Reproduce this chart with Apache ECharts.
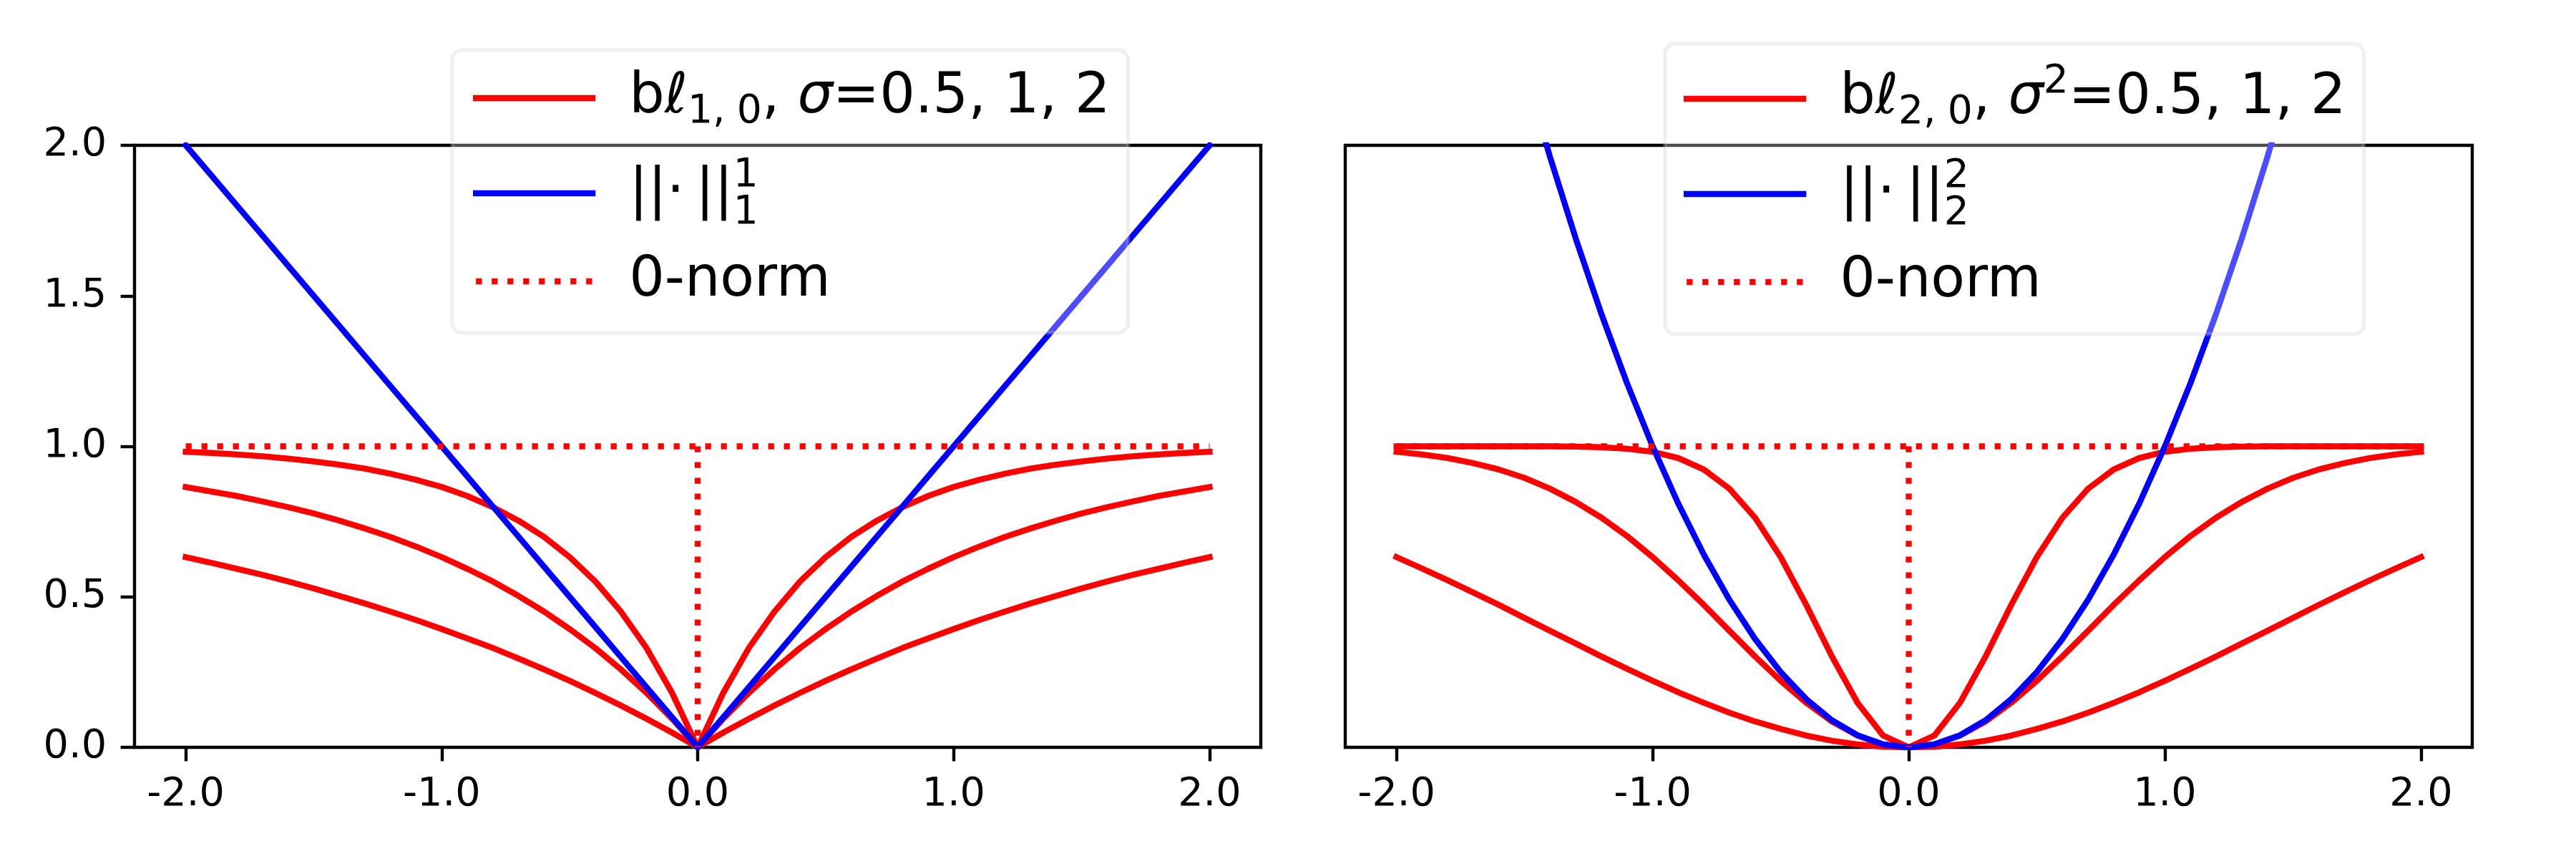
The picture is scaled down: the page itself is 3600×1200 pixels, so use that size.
<!DOCTYPE html>
<html>
<head>
<meta charset="utf-8">
<script src="https://cdn.jsdelivr.net/npm/echarts@6/dist/echarts.min.js"></script>
<style>
html, body { margin: 0; padding: 0; background: #fff; }
#main { width: 3600px; height: 1200px; }
</style>
</head>
<body>
<div id="main"></div>
<script>
// x samples, -2.0 .. 2.0 step 0.1
const xs = [-2.0, -1.9, -1.8, -1.7, -1.6, -1.5, -1.4, -1.3, -1.2, -1.1, -1.0, -0.9, -0.8, -0.7, -0.6, -0.5, -0.4, -0.3, -0.2, -0.1,
    0.0, 0.1, 0.2, 0.3, 0.4, 0.5, 0.6, 0.7, 0.8, 0.9, 1.0, 1.1, 1.2, 1.3, 1.4, 1.5, 1.6, 1.7, 1.8, 1.9, 2.0];

// left panel: bl_{1,0} for sigma = 0.5, 1, 2 and the l1 norm
const l10Sigma05 = [0.982, 0.978, 0.973, 0.967, 0.959, 0.950, 0.939, 0.926, 0.909, 0.889, 0.865, 0.835, 0.798, 0.753, 0.699, 0.632, 0.551, 0.451, 0.330, 0.181,
    0, 0.181, 0.330, 0.451, 0.551, 0.632, 0.699, 0.753, 0.798, 0.835, 0.865, 0.889, 0.909, 0.926, 0.939, 0.950, 0.959, 0.967, 0.973, 0.978, 0.982];
const l10Sigma1 = [0.865, 0.850, 0.835, 0.817, 0.798, 0.777, 0.753, 0.727, 0.699, 0.667, 0.632, 0.593, 0.551, 0.503, 0.451, 0.393, 0.330, 0.259, 0.181, 0.095,
    0, 0.095, 0.181, 0.259, 0.330, 0.393, 0.451, 0.503, 0.551, 0.593, 0.632, 0.667, 0.699, 0.727, 0.753, 0.777, 0.798, 0.817, 0.835, 0.850, 0.865];
const l10Sigma2 = [0.632, 0.613, 0.593, 0.573, 0.551, 0.528, 0.503, 0.478, 0.451, 0.423, 0.393, 0.362, 0.330, 0.295, 0.259, 0.221, 0.181, 0.139, 0.095, 0.049,
    0, 0.049, 0.095, 0.139, 0.181, 0.221, 0.259, 0.295, 0.330, 0.362, 0.393, 0.423, 0.451, 0.478, 0.503, 0.528, 0.551, 0.573, 0.593, 0.613, 0.632];
const l1Norm = [2.0, 1.9, 1.8, 1.7, 1.6, 1.5, 1.4, 1.3, 1.2, 1.1, 1.0, 0.9, 0.8, 0.7, 0.6, 0.5, 0.4, 0.3, 0.2, 0.1,
    0, 0.1, 0.2, 0.3, 0.4, 0.5, 0.6, 0.7, 0.8, 0.9, 1.0, 1.1, 1.2, 1.3, 1.4, 1.5, 1.6, 1.7, 1.8, 1.9, 2.0];

// right panel: bl_{2,0} for sigma^2 = 0.5, 1, 2 and the squared l2 norm
const l20Sigma05 = [1.000, 1.000, 1.000, 1.000, 1.000, 1.000, 1.000, 0.999, 0.997, 0.992, 0.982, 0.961, 0.923, 0.859, 0.763, 0.632, 0.473, 0.302, 0.148, 0.039,
    0, 0.039, 0.148, 0.302, 0.473, 0.632, 0.763, 0.859, 0.923, 0.961, 0.982, 0.992, 0.997, 0.999, 1.000, 1.000, 1.000, 1.000, 1.000, 1.000, 1.000];
const l20Sigma1 = [0.982, 0.973, 0.961, 0.944, 0.923, 0.895, 0.859, 0.815, 0.763, 0.702, 0.632, 0.555, 0.473, 0.387, 0.302, 0.221, 0.148, 0.086, 0.039, 0.010,
    0, 0.010, 0.039, 0.086, 0.148, 0.221, 0.302, 0.387, 0.473, 0.555, 0.632, 0.702, 0.763, 0.815, 0.859, 0.895, 0.923, 0.944, 0.961, 0.973, 0.982];
const l20Sigma2 = [0.632, 0.594, 0.555, 0.514, 0.473, 0.430, 0.387, 0.345, 0.302, 0.261, 0.221, 0.183, 0.148, 0.115, 0.086, 0.061, 0.039, 0.022, 0.010, 0.002,
    0, 0.002, 0.010, 0.022, 0.039, 0.061, 0.086, 0.115, 0.148, 0.183, 0.221, 0.261, 0.302, 0.345, 0.387, 0.430, 0.473, 0.514, 0.555, 0.594, 0.632];
const l2Squared = [4.00, 3.61, 3.24, 2.89, 2.56, 2.25, 1.96, 1.69, 1.44, 1.21, 1.00, 0.81, 0.64, 0.49, 0.36, 0.25, 0.16, 0.09, 0.04, 0.01,
    0, 0.01, 0.04, 0.09, 0.16, 0.25, 0.36, 0.49, 0.64, 0.81, 1.00, 1.21, 1.44, 1.69, 1.96, 2.25, 2.56, 2.89, 3.24, 3.61, 4.00];

// 0-norm: flat at 1, drop to 0 at the origin
const zeroFlatX = [-2.0, 2.0];
const zeroFlatY = [1, 1];
const zeroDropX = [0.0, 0.0];
const zeroDropY = [1, 0];

// ticks
const xTicks = [-2, -1, 0, 1, 2];
const xTickLabels = ['-2.0', '-1.0', '0.0', '1.0', '2.0'];
const yTicks = [0, 0.5, 1, 1.5, 2];
const yTickLabels = ['0.0', '0.5', '1.0', '1.5', '2.0'];

const FONT = 'DejaVu Sans';
const LW = 8.3;
const DOTS = [8.3, 13.7];

const pairs = (xv, yv) => xv.map((x, i) => [x, yv[i]]);

const legendText = {
    bl1: '{lead| }{t|b}{it|ℓ}{sub|1,\u2009\u200A0}{t|, }{it|σ}{t|=0.5, 1, 2}{s1| }',
    n1: '{lead| }{t|||·\u2009||}{sup2|1}{sub2|1}{s2| }',
    z1: '{lead| }{t|0-norm}',
    bl2: '{lead| }{t|b}{it|ℓ}{sub|2,\u2009\u200A0}{t|, }{it|σ}{sup|2}{t|=0.5, 1, 2}{s1| }',
    n2: '{lead| }{t|||·\u2009||}{sup2|2}{sub2|2}{s2| }',
    z2: '{lead| }{t|0-norm}'
};

const rich = {
    lead: { width: 46, fontSize: 78, fontFamily: FONT },
    t: { fontSize: 78, fontFamily: FONT, color: '#000' },
    it: { fontSize: 78, fontFamily: FONT, fontStyle: 'italic', color: '#000' },
    sub: { fontSize: 55, fontFamily: FONT, color: '#000', padding: [40, 0, 0, 0] },
    sup: { fontSize: 55, fontFamily: FONT, color: '#000', padding: [0, 0, 47, 0] },
    sup2: { fontSize: 55, fontFamily: FONT, color: '#000', padding: [0, 0, 49, 0], width: 0 },
    sub2: { fontSize: 55, fontFamily: FONT, color: '#000', padding: [55, 0, 0, 0] },
    s1: { width: 0, lineHeight: 126, fontSize: 78, fontFamily: FONT },
    s2: { width: 0, lineHeight: 140, fontSize: 78, fontFamily: FONT }
};

function makeLegend(names, left, top, padding, textWidth) {
    return {
        orient: 'vertical',
        left: left,
        top: top,
        data: names,
        selectedMode: false,
        itemWidth: 163,
        itemHeight: 20,
        itemGap: 0,
        padding: padding,
        backgroundColor: 'rgba(255,255,255,0.3)',
        borderColor: 'rgba(204,204,204,0.3)',
        borderWidth: 5.5,
        borderRadius: 14,
        lineStyle: { width: LW },
        itemStyle: { opacity: 0 },
        formatter: name => legendText[name],
        textStyle: {
            fontFamily: FONT,
            fontSize: 78,
            lineHeight: 106,
            color: '#000',
            width: textWidth,
            rich: rich
        }
    };
}

function makeX(idx) {
    return {
        type: 'value',
        gridIndex: idx,
        min: -2.2,
        max: 2.2,
        axisLine: { show: false, onZero: false },
        splitLine: { show: false },
        axisTick: { show: true, customValues: xTicks, length: 19.4, lineStyle: { color: '#000', width: 4.4 } },
        axisLabel: {
            customValues: xTicks,
            margin: 39,
            fontFamily: FONT,
            fontSize: 55.6,
            color: '#000',
            formatter: v => xTickLabels[xTicks.indexOf(v)]
        }
    };
}

function makeY(idx, showLabels) {
    return {
        type: 'value',
        gridIndex: idx,
        min: 0,
        max: 2,
        interval: 0.5,
        axisLine: { show: false, onZero: false },
        splitLine: { show: false },
        axisTick: { show: showLabels, length: 19.4, lineStyle: { color: '#000', width: 4.4 } },
        axisLabel: {
            show: showLabels,
            margin: 39,
            fontFamily: FONT,
            fontSize: 55.6,
            color: '#000',
            formatter: v => yTickLabels[yTicks.indexOf(v)]
        }
    };
}

function curve(name, idx, yv, color) {
    return {
        type: 'line',
        name: name,
        xAxisIndex: idx,
        yAxisIndex: idx,
        data: pairs(xs, yv),
        symbol: 'none',
        showSymbol: false,
        clip: true,
        z: 2,
        lineStyle: { color: color, width: LW, cap: 'square', join: 'round' },
        itemStyle: { color: color },
        emphasis: { disabled: true }
    };
}

function dotted(name, idx, xv, yv) {
    return {
        type: 'line',
        name: name,
        xAxisIndex: idx,
        yAxisIndex: idx,
        data: pairs(xv, yv),
        symbol: 'none',
        showSymbol: false,
        clip: true,
        z: 3,
        lineStyle: { color: '#ff0000', width: LW, type: DOTS, cap: 'butt' },
        itemStyle: { color: '#ff0000' },
        emphasis: { disabled: true }
    };
}

const chart = echarts.init(document.getElementById('main'));

chart.setOption({
    animation: false,
    backgroundColor: '#fff',
    textStyle: { fontFamily: FONT },
    grid: [
        { left: 188, top: 203, width: 1574, height: 841, show: true, borderColor: '#000', borderWidth: 4.4, outerBoundsMode: 'none' },
        { left: 1880, top: 203, width: 1575, height: 841, show: true, borderColor: '#000', borderWidth: 4.4, outerBoundsMode: 'none' }
    ],
    xAxis: [makeX(0), makeX(1)],
    yAxis: [makeY(0, true), makeY(1, false)],
    legend: [
        makeLegend(['bl1', 'n1', 'z1'], 632, 70, [4, 0, 19, 29], 722),
        makeLegend(['bl2', 'n2', 'z2'], 2327, 61, [14, 0, 20, 26], 763)
    ],
    series: [
        curve('bl1', 0, l10Sigma05, '#ff0000'),
        curve('bl1', 0, l10Sigma1, '#ff0000'),
        curve('bl1', 0, l10Sigma2, '#ff0000'),
        curve('n1', 0, l1Norm, '#0000ff'),
        dotted('z1', 0, zeroFlatX, zeroFlatY),
        dotted('z1', 0, zeroDropX, zeroDropY),
        curve('bl2', 1, l20Sigma05, '#ff0000'),
        curve('bl2', 1, l20Sigma1, '#ff0000'),
        curve('bl2', 1, l20Sigma2, '#ff0000'),
        curve('n2', 1, l2Squared, '#0000ff'),
        dotted('z2', 1, zeroFlatX, zeroFlatY),
        dotted('z2', 1, zeroDropX, zeroDropY)
    ]
});
</script>
</body>
</html>
